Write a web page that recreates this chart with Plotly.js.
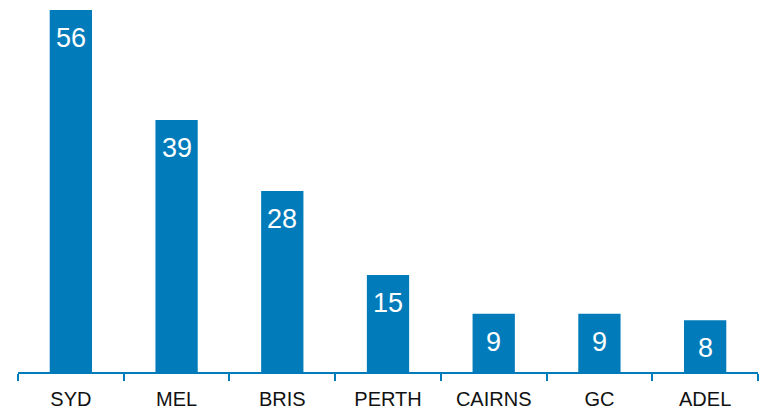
<!DOCTYPE html>
<html><head><meta charset="utf-8">
<script src="https://cdn.plot.ly/plotly-3.0.1.min.js"></script>
<style>html,body{margin:0;padding:0;background:#fff}#c{width:767px;height:409px}</style>
</head><body><div id="c"></div>
<script>
var cities = ["SYD","MEL","BRIS","PERTH","CAIRNS","GC","ADEL"];
var values = [56,39,28,15,9,9,8];
var blue = "#027bba";
var font = "Liberation Sans, Arial, sans-serif";
var annotations = cities.map(function (c, i) {
  return {x: c, y: values[i], xref: "x", yref: "y", text: String(values[i]),
    showarrow: false, yanchor: "middle", xanchor: "center", yshift: -28,
    font: {family: font, size: 27, color: "#ffffff"}};
});
Plotly.newPlot("c", [{
  type: "bar", x: cities, y: values,
  marker: {color: blue},
  hoverinfo: "none"
}], {
  width: 767, height: 409,
  margin: {l: 18, r: 9, t: 10, b: 37},
  bargap: 0.6,
  showlegend: false,
  paper_bgcolor: "#fff", plot_bgcolor: "#fff",
  annotations: annotations,
  xaxis: {
    showline: true, linecolor: blue, linewidth: 2,
    ticks: "outside", tickson: "boundaries", ticklen: 7, tickwidth: 2, tickcolor: blue,
    ticklabelstandoff: 8,
    tickfont: {family: font, size: 20, color: "#111"},
    showgrid: false, zeroline: false, fixedrange: true
  },
  yaxis: {visible: false, range: [0, 56], showgrid: false, zeroline: false, fixedrange: true}
}, {staticPlot: true});
</script></body></html>
